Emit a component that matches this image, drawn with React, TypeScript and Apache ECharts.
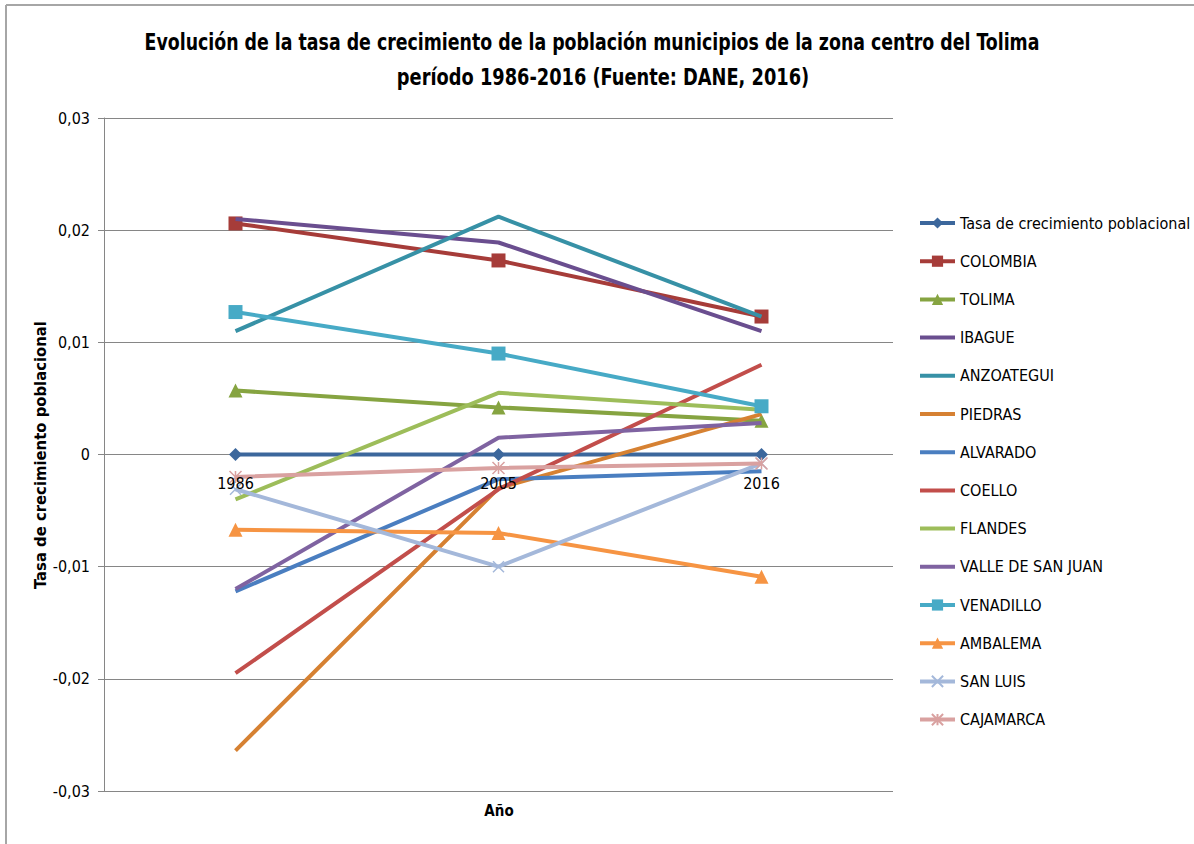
import React, { useEffect, useRef } from "react";
import * as echarts from "echarts";

const years = ["1986", "2005", "2016"];
const seriesNames = [
  "Tasa de crecimiento poblacional",
  "COLOMBIA",
  "TOLIMA",
  "IBAGUE",
  "ANZOATEGUI",
  "PIEDRAS",
  "ALVARADO",
  "COELLO",
  "FLANDES",
  "VALLE DE SAN JUAN",
  "VENADILLO",
  "AMBALEMA",
  "SAN LUIS",
  "CAJAMARCA",
];
const tasa = [0, 0, 0];
const colombia = [0.0206, 0.0173, 0.0123];
const tolima = [0.0057, 0.0042, 0.003];
const ibague = [0.021, 0.0189, 0.011];
const anzoategui = [0.011, 0.0212, 0.0123];
const piedras = [-0.0264, -0.003, 0.0036];
const alvarado = [-0.0122, -0.0022, -0.0015];
const coello = [-0.0195, -0.0031, 0.008];
const flandes = [-0.004, 0.0055, 0.004];
const valle = [-0.012, 0.0015, 0.0028];
const venadillo = [0.0127, 0.009, 0.0043];
const ambalema = [-0.0067, -0.007, -0.0109];
const sanLuis = [-0.0031, -0.01, -0.0008];
const cajamarca = [-0.002, -0.0012, -0.0008];

const titleLines = [
  "Evolución de la tasa de crecimiento de la población municipios de la zona centro del Tolima",
  "período 1986-2016 (Fuente: DANE, 2016)",
];

const seriesData = [tasa, colombia, tolima, ibague, anzoategui, piedras, alvarado, coello, flandes, valle, venadillo, ambalema, sanLuis, cajamarca];
const colors = ["#3c679c", "#a63c39", "#86a441", "#6a4e8f", "#3791a6", "#d68132", "#4a7ec0", "#c24e4b", "#9dbd5a", "#7f63a1", "#47aac6", "#f69443", "#a4b8da", "#d9a1a0"];
const symbols = [
  "diamond",
  "rect",
  "triangle",
  "none",
  "none",
  "none",
  "none",
  "none",
  "none",
  "none",
  "rect",
  "triangle",
  "path://M0,0L10,10M10,0L0,10",
  "path://M0,0L10,10M10,0L0,10M5,0L5,10",
];
const symbolSizes = [13, 14, 14, 0, 0, 0, 0, 0, 0, 0, 14, 14, 11, 12];

const FONT = "'DejaVu Sans Condensed', 'Open Sans', sans-serif";

export default function App() {
  const ref = useRef<HTMLDivElement>(null);
  useEffect(() => {
    document.body.style.margin = "0";
    const chart = echarts.init(ref.current!, null, { renderer: "svg" });
    const series = seriesNames.map((name, i) => {
      const isX = symbols[i].startsWith("path://");
      return {
        name,
        type: "line",
        data: seriesData[i],
        symbol: symbols[i],
        symbolSize: symbolSizes[i],
        showSymbol: symbols[i] !== "none",
        lineStyle: { color: colors[i], width: 4 },
        itemStyle: isX
          ? { color: colors[i], borderColor: colors[i], borderWidth: 1.5 }
          : { color: colors[i], borderWidth: 0 },
        z: 10 + i,
      };
    });
    const legendData = seriesNames.map((name, i) =>
      symbols[i] === "none"
        ? { name, itemStyle: { opacity: 0 }, lineStyle: { width: 4 } }
        : { name, lineStyle: { width: 4 } }
    );
    chart.setOption({
      animation: false,
      backgroundColor: "#ffffff",
      grid: { left: 104, right: 301, top: 118, bottom: 53, containLabel: false },
      legend: {
        orient: "vertical",
        left: 918,
        top: 215,
        padding: 0,
        itemWidth: 35,
        itemHeight: 14,
        itemGap: 22.2,
        lineStyle: { width: 4 },
        textStyle: { fontFamily: FONT, fontSize: 16, color: "#000" },
        data: legendData,
      },
      xAxis: {
        type: "category",
        data: years,
        boundaryGap: true,
        offset: -336,
        z: 40,
        axisLine: { show: false, onZero: false },
        axisTick: { show: false },
        axisLabel: { margin: 20, fontFamily: FONT, fontSize: 16, color: "#000" },
        splitLine: { show: false },
      },
      yAxis: {
        type: "value",
        min: -0.03,
        max: 0.03,
        interval: 0.01,
        axisLine: { show: true, lineStyle: { color: "#868686" } },
        axisTick: { show: true, length: 6, lineStyle: { color: "#868686" } },
        axisLabel: {
          margin: 14,
          fontFamily: FONT,
          fontSize: 16,
          color: "#000",
          formatter: (v: number) => (Math.abs(v) < 1e-9 ? "0" : v.toFixed(2).replace(".", ",")),
        },
        splitLine: { show: true, lineStyle: { color: "#868686", width: 1 } },
      },
      graphic: [
        { type: "line", shape: { x1: 6, y1: 5, x2: 6, y2: 844 }, style: { stroke: "#a6a6a6", lineWidth: 2 } },
        { type: "line", shape: { x1: 6, y1: 5, x2: 1194, y2: 5 }, style: { stroke: "#a6a6a6", lineWidth: 2 } },
        {
          type: "text",
          x: 592,
          y: 42,
          scaleX: 0.84,
          style: { text: titleLines[0], font: `bold 23px ${FONT}`, fill: "#000", align: "center", verticalAlign: "middle" },
        },
        {
          type: "text",
          x: 603,
          y: 77,
          scaleX: 0.86,
          style: { text: titleLines[1], font: `bold 23px ${FONT}`, fill: "#000", align: "center", verticalAlign: "middle" },
        },
        {
          type: "text",
          x: 40,
          y: 455,
          rotation: Math.PI / 2,
          style: {
            text: "Tasa de crecimiento poblacional",
            font: `bold 16.5px ${FONT}`,
            fill: "#000",
            align: "center",
            verticalAlign: "middle",
          },
        },
        {
          type: "text",
          x: 499,
          y: 811,
          style: { text: "Año", font: `bold 15px ${FONT}`, fill: "#000", align: "center", verticalAlign: "middle" },
        },
      ],
      series,
    });
    return () => chart.dispose();
  }, []);
  return <div ref={ref} style={{ width: 1194, height: 844 }} />;
}
